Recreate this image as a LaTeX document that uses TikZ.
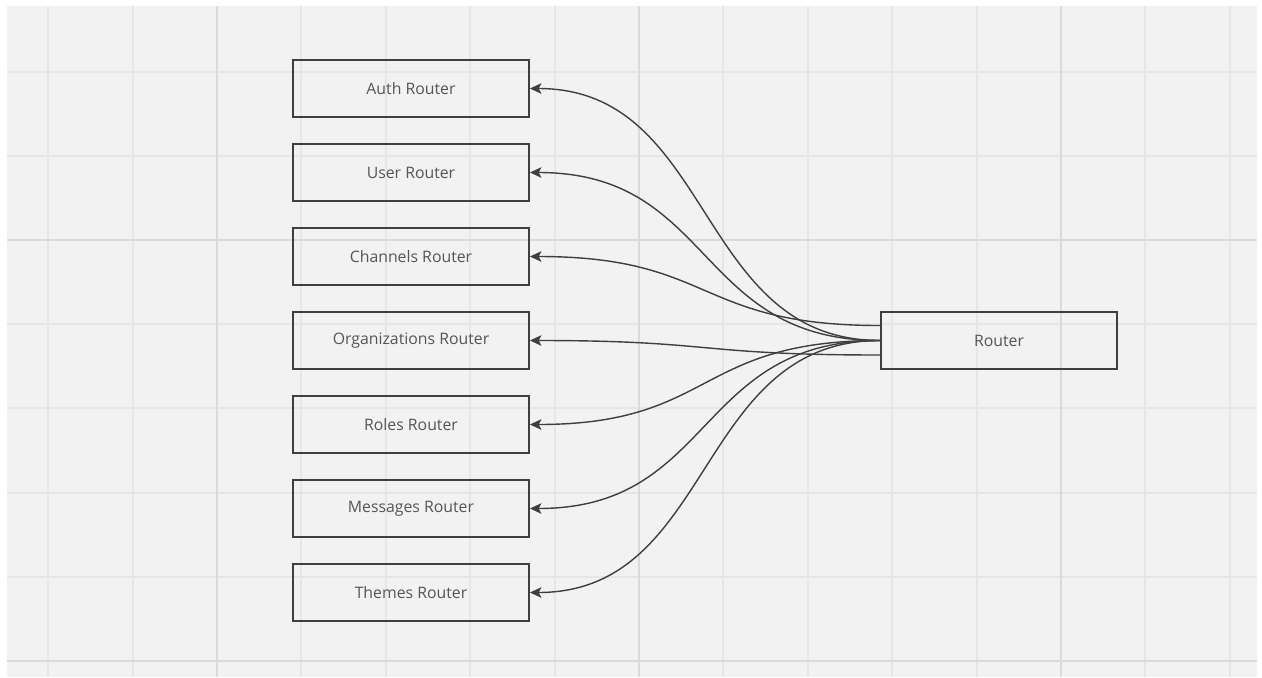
\documentclass[tikz,border=0pt]{standalone}
\usepackage{fontspec}
\setmainfont{Open Sans}
\usepackage{tikz}
\usetikzlibrary{arrows.meta}
\definecolor{boardgray}{HTML}{F2F2F2}
\definecolor{gridminor}{HTML}{E6E6E6}
\definecolor{gridmajor}{HTML}{DADADA}
\definecolor{edgegray}{HTML}{3F3F3F}
\definecolor{textgray}{HTML}{555555}

\begin{document}
\begin{tikzpicture}[x=0.02cm,y=-0.02cm,
	routerbox/.style={draw=edgegray,line width=1.1pt,minimum width=4.72cm,minimum height=1.14cm,inner sep=0pt,text=textgray,font=\fontsize{9}{11}\selectfont},
	link/.style={draw=edgegray,line width=0.8pt,-{Stealth[length=6.5pt,width=6pt,inset=1.5pt]}},
	gridline/.style={draw=gridminor,line width=1.1pt},
	gridbold/.style={draw=gridmajor,line width=1.5pt}]
	% board and grid
	\useasboundingbox (0,0) rectangle (1262,677);
	\fill[white] (0,0) rectangle (1262,677);
	\fill[boardgray] (7,6) rectangle (1257,677);
	\foreach \k in {-2,...,12}
		\draw[gridline] ({217+84.4*\k},6) -- ({217+84.4*\k},677);
	\foreach \k in {-2,...,5}
		\draw[gridline] (7,{240+84.2*\k}) -- (1257,{240+84.2*\k});
	\foreach \k in {0,5,10}
		\draw[gridbold] ({217+84.4*\k},6) -- ({217+84.4*\k},677);
	\foreach \k in {0,5}
		\draw[gridbold] (7,{240+84.2*\k}) -- (1257,{240+84.2*\k});
	% routers
	\node[routerbox] (auth) at (411,88.5) {Auth Router};
	\node[routerbox] (user) at (411,172.5) {User Router};
	\node[routerbox] (channels) at (411,256.5) {Channels Router};
	\node[routerbox] (orgs) at (411,340.5) {Organizations Router};
	\node[routerbox] (roles) at (411,424.5) {Roles Router};
	\node[routerbox] (messages) at (411,508.5) {Messages Router};
	\node[routerbox] (themes) at (411,592.5) {Themes Router};
	\node[routerbox] (router) at (999,340.5) {Router};
	\coordinate (rtop) at ([yshift=0.3cm]router.west);
	\coordinate (rbot) at ([yshift=-0.29cm]router.west);
	% links
	\draw[link] (router.west) .. controls +(-185,0) and +(185,0) .. (auth.east);
	\draw[link] (router.west) .. controls +(-185,0) and +(185,0) .. (user.east);
	\draw[link] (rtop) .. controls +(-185,0) and +(185,0) .. (channels.east);
	\draw[link] (rbot) .. controls +(-185,0) and +(185,0) .. (orgs.east);
	\draw[link] (router.west) .. controls +(-185,0) and +(185,0) .. (roles.east);
	\draw[link] (router.west) .. controls +(-185,0) and +(185,0) .. (messages.east);
	\draw[link] (router.west) .. controls +(-185,0) and +(185,0) .. (themes.east);
\end{tikzpicture}
\end{document}
